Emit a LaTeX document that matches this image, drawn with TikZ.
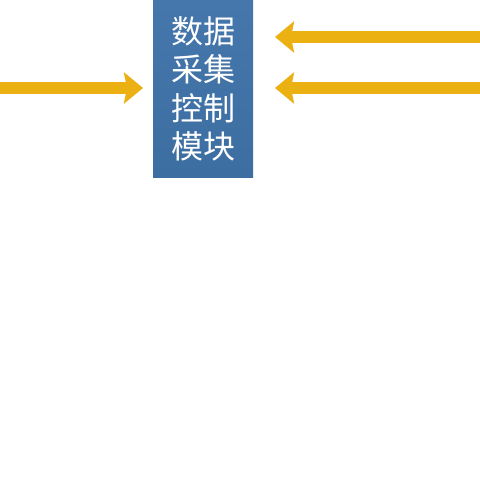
\documentclass[tikz,border=0pt]{standalone}
\usepackage{fontspec}
\newfontfamily\cjk{Noto Sans CJK SC}
\usetikzlibrary{arrows.meta}
\definecolor{boxblue}{HTML}{3D6EA2}
\definecolor{boxtop}{HTML}{4677AC}
\definecolor{arrowgold}{HTML}{EBB012}
\tikzset{
  modbox/.style={rectangle, inner sep=0pt, minimum width=100pt, minimum height=177pt,
    top color=boxtop, bottom color=boxblue, draw=none,
    text=white, font=\cjk\fontsize{32}{38.5}\selectfont, align=center},
  goldarrow/.style={draw=arrowgold, line width=12pt,
    -{Stealth[length=19pt, width=31pt, inset=3pt]}}
}
\begin{document}
\begin{tikzpicture}[x=1pt,y=-1pt]
\useasboundingbox (0,0) rectangle (480,480);
\fill[white] (0,0) rectangle (480,480);
\node[modbox, anchor=north west] (mod) at (153,0) {\raisebox{2pt}{\parbox{100pt}{\centering 数据\\采集\\控制\\模块}}};
\coordinate (lstart) at (0,88);
\coordinate (ltip) at (143,88);
\coordinate (r1start) at (480,37);
\coordinate (r1tip) at (275,37);
\coordinate (r2start) at (480,88);
\coordinate (r2tip) at (275,88);
\draw[goldarrow] (lstart) -- (ltip);
\draw[goldarrow] (r1start) -- (r1tip);
\draw[goldarrow] (r2start) -- (r2tip);
\end{tikzpicture}
\end{document}
